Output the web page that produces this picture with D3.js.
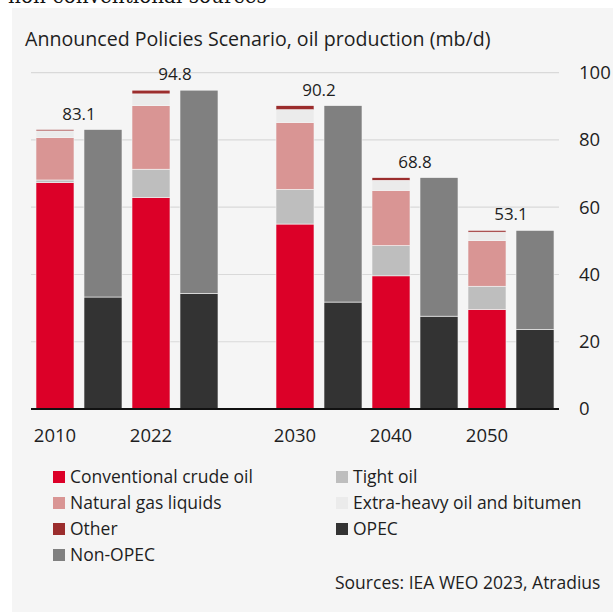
<!DOCTYPE html>
<html>
<head>
<meta charset="utf-8">
<script src="https://cdn.jsdelivr.net/npm/d3@7"></script>
<style>
  html, body { margin: 0; padding: 0; background: #fff; }
  svg { display: block; }
  text { font-family: "Open Sans", sans-serif; fill: #1e1e1e; }
</style>
</head>
<body>
<svg id="chart" width="613" height="612"></svg>
<script>
// Announced Policies Scenario, oil production (mb/d)
const years = ['2010', '2022', '2030', '2040', '2050'];
const conventional = [67.3, 62.9, 55.0, 39.6, 29.6];
const tightOil = [0.8, 8.4, 10.3, 9.0, 6.9];
const ngl = [12.6, 18.9, 19.9, 16.4, 13.6];
const extraHeavy = [2.0, 3.5, 3.8, 3.0, 2.5];
const other = [0.4, 1.1, 1.2, 0.8, 0.5];
const opec = [33.3, 34.4, 31.8, 27.6, 23.7];
const nonOpec = [49.8, 60.4, 58.4, 41.2, 29.4];
const totals = [83.1, 94.8, 90.2, 68.8, 53.1];
const yTicks = [0, 20, 40, 60, 80, 100];

const typeKeys = ['conventional', 'tight', 'ngl', 'extraHeavy', 'other'];
const regionKeys = ['opec', 'nonOpec'];
const colors = {
  conventional: '#dc0028',
  tight: '#bebebe',
  ngl: '#d99594',
  extraHeavy: '#ebebeb',
  other: '#9b2d2d',
  opec: '#333333',
  nonOpec: '#808080'
};
const legendItems = [
  ['conventional', 'Conventional crude oil'],
  ['tight', 'Tight oil'],
  ['ngl', 'Natural gas liquids'],
  ['extraHeavy', 'Extra-heavy oil and bitumen'],
  ['other', 'Other'],
  ['opec', 'OPEC'],
  ['nonOpec', 'Non-OPEC']
];

const svg = d3.select('#chart');

// panel background and clipped heading above it (cut off in the original too)
svg.append('text')
  .attr('x', 8).attr('y', 3)
  .style('font-family', '"DejaVu Serif", serif')
  .style('font-size', '20px')
  .style('fill', '#111')
  .text('non-conventional sources');

svg.append('rect')
  .attr('x', 12).attr('y', 8)
  .attr('width', 601).attr('height', 604)
  .attr('fill', '#f5f5f5');

svg.append('text')
  .attr('x', 25).attr('y', 46)
  .style('font-size', '19.6px')
  .text('Announced Policies Scenario, oil production (mb/d)');

// slot layout: two bars per year, empty slot between 2022 and 2030
const slots = [];
years.forEach(yr => {
  if (yr === '2030') slots.push('gap');
  slots.push(yr + '-types', yr + '-regions');
});

const x = d3.scaleBand()
  .domain(slots)
  .range([31, 559])
  .paddingInner(0.2083)
  .paddingOuter(0.104);

const y = d3.scaleLinear().domain([0, 100]).range([409, 72.7]);

// gridlines
svg.append('g')
  .selectAll('line')
  .data(yTicks.filter(d => d > 0))
  .join('line')
  .attr('x1', 31).attr('x2', 559)
  .attr('y1', d => y(d)).attr('y2', d => y(d))
  .attr('stroke', '#d9d9d9')
  .attr('stroke-width', 1.2);

// y labels on the right
svg.append('g')
  .selectAll('text')
  .data(yTicks)
  .join('text')
  .attr('x', 579)
  .attr('y', d => y(d))
  .attr('dy', '0.35em')
  .style('font-size', '18.5px')
  .text(d => d);

const rows = years.map((yr, i) => ({
  year: yr,
  conventional: conventional[i],
  tight: tightOil[i],
  ngl: ngl[i],
  extraHeavy: extraHeavy[i],
  other: other[i],
  opec: opec[i],
  nonOpec: nonOpec[i],
  total: totals[i]
}));

const typeStack = d3.stack().keys(typeKeys)(rows);
const regionStack = d3.stack().keys(regionKeys)(rows);

const bars = svg.append('g');

bars.selectAll('g.types')
  .data(typeStack)
  .join('g')
  .attr('class', 'types')
  .attr('fill', d => colors[d.key])
  .selectAll('rect')
  .data(d => d)
  .join('rect')
  .attr('x', d => x(d.data.year + '-types'))
  .attr('width', x.bandwidth())
  .attr('y', d => y(d[1]))
  .attr('height', d => y(d[0]) - y(d[1]))
  .attr('stroke', '#f5f5f5')
  .attr('stroke-width', 0.6);

bars.selectAll('g.regions')
  .data(regionStack)
  .join('g')
  .attr('class', 'regions')
  .attr('fill', d => colors[d.key])
  .selectAll('rect')
  .data(d => d)
  .join('rect')
  .attr('x', d => x(d.data.year + '-regions'))
  .attr('width', x.bandwidth())
  .attr('y', d => y(d[1]))
  .attr('height', d => y(d[0]) - y(d[1]))
  .attr('stroke', '#f5f5f5')
  .attr('stroke-width', 0.6);

// baseline
svg.append('line')
  .attr('x1', 31).attr('x2', 559)
  .attr('y1', y(0)).attr('y2', y(0))
  .attr('stroke', '#111')
  .attr('stroke-width', 2);

// totals above each pair
svg.append('g')
  .selectAll('text')
  .data(rows)
  .join('text')
  .attr('x', d => (x(d.year + '-types') + x(d.year + '-regions') + x.bandwidth()) / 2)
  .attr('y', d => y(d.total) - 10)
  .attr('text-anchor', 'middle')
  .style('font-size', '17px')
  .text(d => d.total.toFixed(1));

// year labels under the first bar of each pair
svg.append('g')
  .selectAll('text')
  .data(rows)
  .join('text')
  .attr('x', d => x(d.year + '-types') + x.bandwidth() / 2)
  .attr('y', 442)
  .attr('text-anchor', 'middle')
  .style('font-size', '18.5px')
  .text(d => d.year);

// legend, two columns
const legend = svg.append('g')
  .selectAll('g')
  .data(legendItems)
  .join('g')
  .attr('transform', (d, i) => `translate(${i % 2 === 0 ? 53 : 336},${477 + Math.floor(i / 2) * 26})`);

legend.append('rect')
  .attr('x', 0).attr('y', -6)
  .attr('width', 12).attr('height', 12)
  .attr('fill', d => colors[d[0]]);

legend.append('text')
  .attr('x', 17)
  .attr('dy', '0.35em')
  .style('font-size', '17.5px')
  .text(d => d[1]);

svg.append('text')
  .attr('x', 335).attr('y', 583)
  .attr('dy', '0.35em')
  .style('font-size', '17.5px')
  .text('Sources: IEA WEO 2023, Atradius');
</script>
</body>
</html>
